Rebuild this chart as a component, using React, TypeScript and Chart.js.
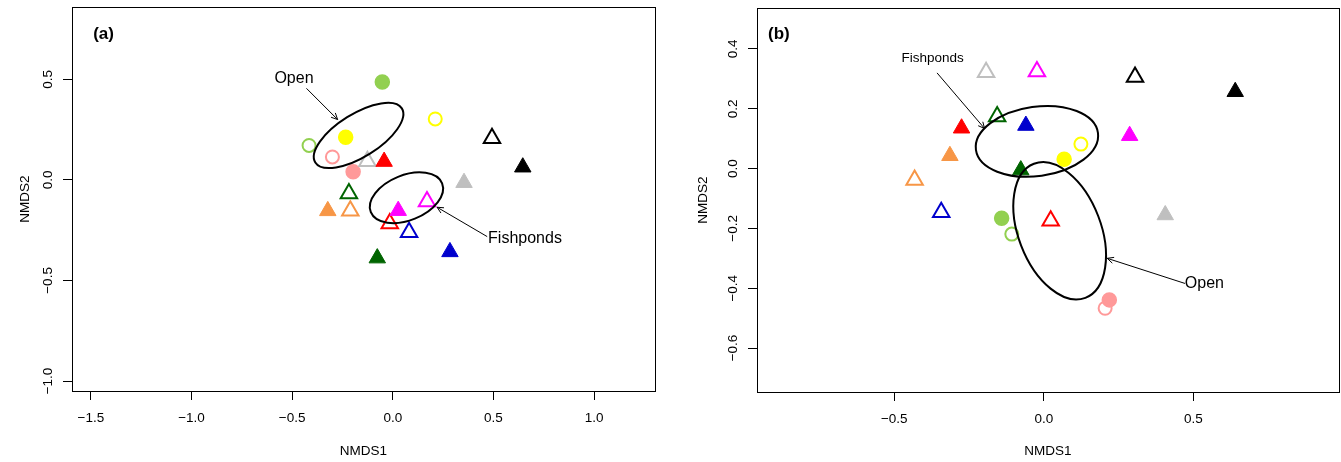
import React, { useEffect, useRef } from "react";
import { Chart, registerables } from "chart.js";

Chart.register(...registerables);

// ---- Data: one entry per sample (same sample order in both ordinations) ----
const markerColor = [
  "#92d050", "#92d050", "#ffff00", "#ffff00", "#ff9999", "#ff9999",
  "#000000", "#000000", "#bfbfbf", "#bfbfbf", "#ff0000", "#ff0000",
  "#006400", "#006400", "#f79646", "#f79646", "#ff00ff", "#ff00ff",
  "#0000cd", "#0000cd",
];
const markerShape = [
  "circle", "circle", "circle", "circle", "circle", "circle",
  "triangle", "triangle", "triangle", "triangle", "triangle", "triangle",
  "triangle", "triangle", "triangle", "triangle", "triangle", "triangle",
  "triangle", "triangle",
];
const markerFilled = [
  true, false, true, false, true, false,
  true, false, true, false, true, false,
  true, false, true, false, true, false,
  true, false,
];

// Panel (a)
const nmds1A = [-0.052, -0.416, -0.234, 0.211, -0.197, -0.300, 0.646, 0.493, 0.354, -0.126, -0.043, -0.015, -0.077, -0.218, -0.323, -0.211, 0.027, 0.170, 0.284, 0.081];
const nmds2A = [0.487, 0.171, 0.212, 0.303, 0.040, 0.114, 0.063, 0.207, -0.014, 0.092, 0.091, -0.217, -0.389, -0.068, -0.154, -0.154, -0.153, -0.108, -0.358, -0.260];
// Panel (b)
const nmds1B = [-0.141, -0.107, 0.068, 0.124, 0.219, 0.205, 0.640, 0.305, 0.406, -0.193, -0.275, 0.023, -0.077, -0.156, -0.314, -0.432, 0.287, -0.023, -0.060, -0.343];
const nmds2B = [-0.166, -0.219, 0.031, 0.082, -0.439, -0.467, 0.257, 0.306, -0.155, 0.322, 0.135, -0.174, -0.005, 0.174, 0.043, -0.038, 0.110, 0.325, 0.144, -0.146];

// Group ellipses (centre, semi-axes in NMDS units, screen rotation in degrees)
const ellipsesA = [
  { cx: -0.170, cy: 0.221, a: 0.2535, b: 0.107, angle: -32 }, // Open
  { cx: 0.068, cy: -0.089, a: 0.191, b: 0.112, angle: -22 },  // Fishponds
];
const ellipsesB = [
  { cx: -0.023, cy: 0.091, a: 0.206, b: 0.116, angle: -8 },   // Fishponds
  { cx: 0.053, cy: -0.208, a: 0.240, b: 0.138, angle: 69 },   // Open
];
const arrowsA = [
  { x1: -0.429, y1: 0.455, x2: -0.274, y2: 0.300 },
  { x1: 0.469, y1: -0.282, x2: 0.220, y2: -0.136 },
];
const arrowsB = [
  { x1: -0.357, y1: 0.320, x2: -0.198, y2: 0.134 },
  { x1: 0.472, y1: -0.384, x2: 0.212, y2: -0.300 },
];
const labelsA = [
  { x: -1.437, y: 0.725, text: "(a)", size: 17, bold: true },
  { x: -0.491, y: 0.502, text: "Open", size: 16, bold: false },
  { x: 0.657, y: -0.294, text: "Fishponds", size: 16, bold: false },
];
const labelsB = [
  { x: -0.886, y: 0.450, text: "(b)", size: 17, bold: true },
  { x: -0.372, y: 0.369, text: "Fishponds", size: 13.5, bold: false },
  { x: 0.537, y: -0.384, text: "Open", size: 16, bold: false },
];

const FONT = "'Liberation Sans', Arial, Helvetica, sans-serif";
const AXIS_FONT = 13.5;
const H = 462;

type Panel = {
  canvasLeft: number;
  canvasWidth: number;
  area: { left: number; top: number; right: number; bottom: number };
  xMin: number; xMax: number; yMin: number; yMax: number;
  xStep: number; yStep: number;
  yTitlePad: number;
  xs: number[]; ys: number[];
  ellipses: any[]; arrows: any[]; labels: any[];
};

const panels: Panel[] = [
  {
    canvasLeft: 0, canvasWidth: 680,
    area: { left: 72, top: 7, right: 655, bottom: 391 },
    xMin: -1.594, xMax: 1.303, yMin: -1.0497, yMax: 0.8595,
    xStep: 0.5, yStep: 0.5, yTitlePad: 17,
    xs: nmds1A, ys: nmds2A, ellipses: ellipsesA, arrows: arrowsA, labels: labelsA,
  },
  {
    canvasLeft: 680, canvasWidth: 661,
    area: { left: 77, top: 8, right: 659, bottom: 392 },
    xMin: -0.959, xMax: 0.987, yMin: -0.747, yMax: 0.537,
    xStep: 0.5, yStep: 0.2, yTitlePad: 15,
    xs: nmds1B, ys: nmds2B, ellipses: ellipsesB, arrows: arrowsB, labels: labelsB,
  },
];

const fmt = (v: number) => (v < -1e-9 ? "\u2212" : "") + Math.abs(v).toFixed(1);

function annotPlugin(p: Panel) {
  return {
    id: "annot",
    afterDatasetsDraw(chart: any) {
      const { ctx, chartArea: ca } = chart;
      const xs = chart.scales.x;
      const ys = chart.scales.y;
      ctx.save();
      ctx.strokeStyle = "#000";
      ctx.lineWidth = 1;
      ctx.strokeRect(ca.left + 0.5, ca.top + 0.5, ca.right - ca.left, ca.bottom - ca.top);

      ctx.lineWidth = 2;
      for (const e of p.ellipses) {
        const px = xs.getPixelForValue(e.cx);
        const py = ys.getPixelForValue(e.cy);
        const rx = Math.abs(xs.getPixelForValue(e.cx + e.a) - px);
        const ry = Math.abs(xs.getPixelForValue(e.cx + e.b) - px);
        ctx.beginPath();
        ctx.ellipse(px, py, rx, ry, (e.angle * Math.PI) / 180, 0, Math.PI * 2);
        ctx.stroke();
      }

      ctx.lineWidth = 1;
      for (const a of p.arrows) {
        const x1 = xs.getPixelForValue(a.x1), y1 = ys.getPixelForValue(a.y1);
        const x2 = xs.getPixelForValue(a.x2), y2 = ys.getPixelForValue(a.y2);
        ctx.beginPath();
        ctx.moveTo(x1, y1);
        ctx.lineTo(x2, y2);
        const ang = Math.atan2(y2 - y1, x2 - x1);
        const L = 7;
        for (const s of [-1, 1]) {
          const t = ang + Math.PI + s * (Math.PI / 7);
          ctx.moveTo(x2, y2);
          ctx.lineTo(x2 + L * Math.cos(t), y2 + L * Math.sin(t));
        }
        ctx.stroke();
      }

      ctx.fillStyle = "#000";
      ctx.textAlign = "center";
      ctx.textBaseline = "middle";
      for (const l of p.labels) {
        ctx.font = `${l.bold ? "bold " : ""}${l.size}px ${FONT}`;
        ctx.fillText(l.text, xs.getPixelForValue(l.x), ys.getPixelForValue(l.y));
      }
      ctx.restore();
    },
  };
}

function buildChart(canvas: HTMLCanvasElement, p: Panel) {
  const data = p.xs.map((x, i) => ({ x, y: p.ys[i] }));
  const isTri = markerShape.map((s) => s === "triangle");
  return new Chart(canvas, {
    type: "scatter",
    data: {
      datasets: [
        {
          data,
          pointStyle: markerShape as any,
          pointRadius: markerShape.map((s, i) => (s === "triangle" ? 9.5 : markerFilled[i] ? 7 : 6.5)),
          pointBackgroundColor: markerColor.map((c, i) => (markerFilled[i] ? c : "rgba(0,0,0,0)")),
          pointBorderColor: markerColor,
          pointBorderWidth: markerFilled.map((f, i) => (f ? (isTri[i] ? 1 : 1.5) : 2)),
          clip: false,
        } as any,
      ],
    },
    options: {
      responsive: false,
      animation: false,
      devicePixelRatio: 1,
      events: [],
      layout: {
        autoPadding: false,
        padding: { left: 0, top: p.area.top, right: p.canvasWidth - p.area.right, bottom: 0 },
      },
      plugins: { legend: { display: false }, tooltip: { enabled: false } },
      scales: {
        x: {
          type: "linear",
          min: p.xMin,
          max: p.xMax,
          border: { display: false },
          grid: { drawOnChartArea: false, drawTicks: true, tickLength: 9, color: "#000", lineWidth: 1 },
          ticks: {
            stepSize: p.xStep,
            includeBounds: false,
            autoSkip: false,
            maxRotation: 0,
            minRotation: 0,
            padding: 10.5,
            color: "#000",
            font: { family: FONT, size: AXIS_FONT },
            callback: (v: any) => fmt(Number(v)),
          },
          title: {
            display: true,
            text: "NMDS1",
            color: "#000",
            font: { family: FONT, size: AXIS_FONT },
            padding: { top: 0, bottom: 3 },
          },
          afterFit: (s: any) => {
            s.height = H - p.area.bottom;
            s.paddingLeft = 0;
            s.paddingRight = 0;
          },
        },
        y: {
          type: "linear",
          min: p.yMin,
          max: p.yMax,
          border: { display: false },
          grid: { drawOnChartArea: false, drawTicks: true, tickLength: 9, color: "#000", lineWidth: 1 },
          ticks: {
            stepSize: p.yStep,
            includeBounds: false,
            autoSkip: false,
            minRotation: 90,
            maxRotation: 90,
            crossAlign: "center",
            padding: 1,
            color: "#000",
            font: { family: FONT, size: AXIS_FONT },
            callback: (v: any) => fmt(Number(v)),
          },
          title: {
            display: true,
            text: "NMDS2",
            color: "#000",
            font: { family: FONT, size: AXIS_FONT },
            padding: { top: p.yTitlePad, bottom: 0 },
          },
          afterFit: (s: any) => {
            s.width = p.area.left;
            s.paddingTop = 0;
            s.paddingBottom = 0;
          },
        },
      },
    } as any,
    plugins: [annotPlugin(p)],
  });
}

function PanelCanvas({ p }: { p: Panel }) {
  const ref = useRef<HTMLCanvasElement | null>(null);
  useEffect(() => {
    if (!ref.current) return;
    const chart = buildChart(ref.current, p);
    return () => chart.destroy();
  }, [p]);
  return (
    <canvas
      ref={ref}
      width={p.canvasWidth}
      height={H}
      style={{ position: "absolute", left: p.canvasLeft, top: 0, width: p.canvasWidth, height: H }}
    />
  );
}

export default function App() {
  return (
    <div style={{ position: "absolute", left: 0, top: 0, width: 1341, height: H, background: "#fff" }}>
      {panels.map((p, i) => (
        <PanelCanvas key={i} p={p} />
      ))}
    </div>
  );
}
